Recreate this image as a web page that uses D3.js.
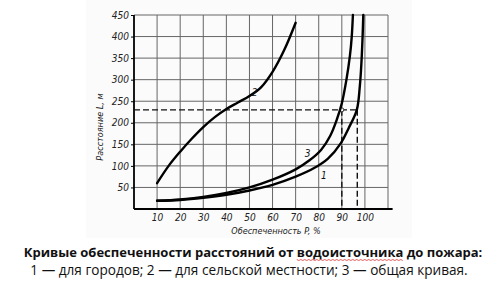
<!DOCTYPE html>
<html>
<head>
<meta charset="utf-8">
<script src="https://cdn.jsdelivr.net/npm/d3@7"></script>
<style>
  body { margin: 0; background: #fff; }
  svg { display: block; }
</style>
</head>
<body>
<div id="chart"></div>
<script>
// Values: P (%) -> L (m)
const xTicks = [10, 20, 30, 40, 50, 60, 70, 80, 90, 100];
const yTicks = [50, 100, 150, 200, 250, 300, 350, 400, 450];

const curve1 = [[10, 19], [20, 21], [30, 26], [40, 33], [50, 43], [60, 56], [70, 75],
  [78, 95], [84, 117], [89.6, 153], [93, 188], [96.5, 230], [97.8, 285],
  [98.5, 340], [99, 400], [99.3, 450]];
const curve2 = [[10, 60], [15, 100], [20, 133], [25, 163], [30, 190], [35, 213], [40, 232],
  [45, 247], [50, 262], [55, 282], [60, 318], [65, 368], [70, 432]];
const curve3 = [[10, 19], [20, 22], [30, 28], [40, 37], [50, 50], [60, 68], [70, 92],
  [76, 113], [81, 137], [85, 170], [88, 210], [90, 245], [92, 300], [93.5, 355],
  [94.3, 400], [94.8, 450]];

const guideL = 230;
const guideP = [90, 96.7];

const curveLabels = [
  { text: '1', p: 81, l: 70 },
  { text: '2', p: 51, l: 262 },
  { text: '3', p: 74, l: 120 },
];

const width = 500, height = 286;
const svg = d3.select('#chart').append('svg')
  .attr('width', width)
  .attr('height', height);

// light backdrop of the scanned figure
svg.append('rect')
  .attr('x', 86).attr('y', 0)
  .attr('width', 326).attr('height', 238)
  .attr('fill', '#fbfbfb');

const x = d3.scaleLinear().domain([0, 110]).range([134, 388]);
const y = d3.scaleLinear().domain([0, 450]).range([209, 15]);

const scanFont = '"DejaVu Sans Condensed", "Liberation Sans Narrow", sans-serif';

// grid
const grid = svg.append('g').attr('stroke', '#666').attr('stroke-width', 1);
grid.selectAll('line.v')
  .data(d3.range(10, 111, 10))
  .join('line')
  .attr('x1', d => x(d)).attr('x2', d => x(d))
  .attr('y1', y(0)).attr('y2', y(450));
grid.selectAll('line.h')
  .data(yTicks)
  .join('line')
  .attr('x1', x(0)).attr('x2', x(110))
  .attr('y1', d => y(d)).attr('y2', d => y(d));

// axes
const yAxis = svg.append('g')
  .attr('transform', `translate(${x(0)},0)`)
  .call(d3.axisLeft(y).tickValues(yTicks).tickSize(3).tickPadding(2));
yAxis.select('.domain').attr('stroke-width', 1.8).attr('d', `M0,${y(450)}V${y(0)}`);
yAxis.selectAll('text')
  .attr('font-family', scanFont).attr('font-style', 'italic')
  .attr('font-size', 10).attr('fill', '#222');

const xAxis = svg.append('g')
  .attr('transform', `translate(0,${y(0)})`)
  .call(d3.axisBottom(x).tickValues(xTicks).tickSize(0).tickPadding(5));
xAxis.select('.domain').attr('stroke-width', 1.8).attr('d', `M${x(0)},0H${x(112)}`);
xAxis.selectAll('text')
  .attr('font-family', scanFont).attr('font-style', 'italic')
  .attr('font-size', 10).attr('fill', '#222');

// dashed guides
const guides = svg.append('g')
  .attr('stroke', '#111').attr('stroke-width', 1.4)
  .attr('stroke-dasharray', '6,3').attr('fill', 'none');
guides.append('line')
  .attr('x1', x(0)).attr('x2', x(guideP[1]))
  .attr('y1', y(guideL)).attr('y2', y(guideL));
guides.selectAll('line.gv')
  .data(guideP)
  .join('line')
  .attr('x1', d => x(d)).attr('x2', d => x(d))
  .attr('y1', y(guideL)).attr('y2', y(0));
svg.append('circle')
  .attr('cx', x(guideP[0])).attr('cy', y(guideL)).attr('r', 2)
  .attr('fill', '#fff').attr('stroke', '#333').attr('stroke-width', 1);

// curves
const line = d3.line()
  .x(d => x(d[0])).y(d => y(d[1]))
  .curve(d3.curveCatmullRom.alpha(0.5));
svg.append('g')
  .attr('fill', 'none').attr('stroke', '#000')
  .attr('stroke-width', 2.4).attr('stroke-linecap', 'round')
  .selectAll('path')
  .data([curve1, curve2, curve3])
  .join('path')
  .attr('d', line);

svg.append('g')
  .selectAll('text')
  .data(curveLabels)
  .join('text')
  .attr('x', d => x(d.p)).attr('y', d => y(d.l))
  .attr('font-family', scanFont).attr('font-style', 'italic')
  .attr('font-size', 10).attr('fill', '#111')
  .text(d => d.text);

// axis titles
svg.append('text')
  .attr('transform', `translate(103,${y(190)}) rotate(-90)`)
  .attr('text-anchor', 'middle')
  .attr('font-family', scanFont).attr('font-style', 'italic')
  .attr('font-size', 9).attr('fill', '#222')
  .text('Расстояние L, м');
svg.append('text')
  .attr('x', 276).attr('y', 234)
  .attr('text-anchor', 'middle')
  .attr('font-family', scanFont).attr('font-style', 'italic')
  .attr('font-size', 9).attr('fill', '#222')
  .text('Обеспеченность P, %');

// caption
const cap1 = svg.append('text')
  .attr('x', 253).attr('y', 256.5)
  .attr('text-anchor', 'middle')
  .attr('font-family', '"Open Sans", sans-serif')
  .attr('font-weight', 'bold').attr('font-size', 13).attr('fill', '#111');
cap1.append('tspan').text('Кривые обеспеченности расстояний от ');
const word = cap1.append('tspan').text('водоисточника');
cap1.append('tspan').text(' до пожара:');

svg.append('text')
  .attr('x', 249).attr('y', 274.5)
  .attr('text-anchor', 'middle')
  .attr('font-family', '"Open Sans", sans-serif')
  .attr('font-size', 13.6).attr('fill', '#111')
  .text('1 — для городов; 2 — для сельской местности; 3 — общая кривая.');

// spell-check squiggle under the word
const bb = word.node().getBBox();
const wave = [];
for (let px = bb.x; px <= bb.x + bb.width; px += 2) {
  wave.push([px, 259.5 + ((Math.round((px - bb.x) / 2) % 2) ? 1 : 0)]);
}
svg.append('path')
  .attr('d', d3.line()(wave))
  .attr('fill', 'none').attr('stroke', '#e03030').attr('stroke-width', 0.8);
</script>
</body>
</html>
